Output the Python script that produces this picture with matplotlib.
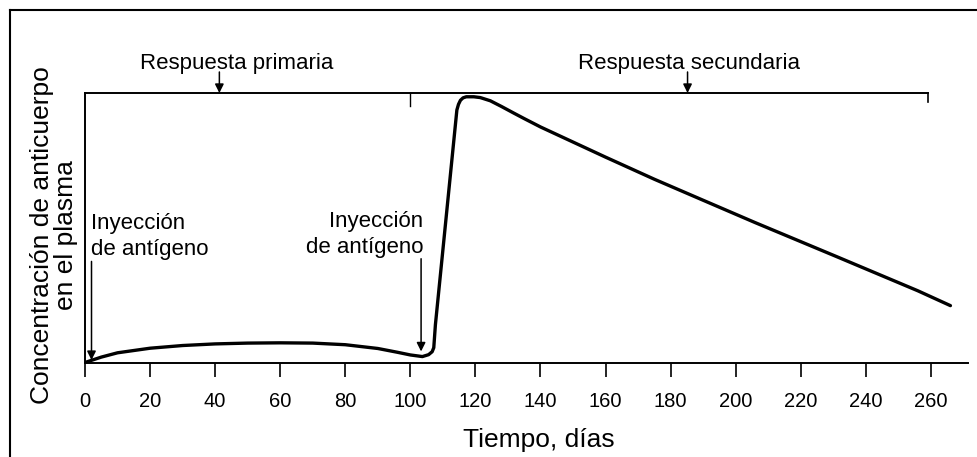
"""Antibody concentration in plasma: primary vs secondary response."""

import matplotlib

matplotlib.use("Agg")
import matplotlib.pyplot as plt
from matplotlib.lines import Line2D

plt.rcParams["font.family"] = ["Liberation Sans", "DejaVu Sans"]

# curve (days, relative concentration 0-100)
days = [0, 5, 10, 20, 30, 40, 50, 60, 70, 80, 90, 96, 100, 103.7, 105.6,
        106.7, 107.2, 107.7, 110.6, 114.3, 114.8, 115.4, 116.2, 117.2,
        119.5, 121.5, 124.6, 128, 131.7, 135, 140, 150, 160, 175, 190, 206,
        231, 256, 266]
conc = [0, 2.0, 3.6, 5.3, 6.3, 6.9, 7.2, 7.3, 7.2, 6.6, 5.2, 3.8, 2.8, 2.2,
        2.9, 4.0, 5.5, 14, 49, 93.7, 95.8, 97.3, 98.2, 98.6, 98.6, 98.3,
        97.1, 95.0, 92.6, 90.5, 87.4, 81.8, 76.2, 68.0, 60.2, 51.9, 39.3,
        26.6, 21.1]

xticks = list(range(0, 261, 20))
injections = [2, 103.3]          # days of the antigen injections
response_marks = [41.3, 185.2]   # arrows on the top bracket
response_labels = ["Respuesta primaria", "Respuesta secundaria"]
response_text_x = [46.6, 185.7]
bracket_end = 259

fig = plt.figure(figsize=(9.78, 4.57), dpi=100)
ax = fig.add_axes([85 / 978, 1 - 362.5 / 457, 883 / 978, 269.5 / 457])

ax.plot(days, conc, color="black", lw=2.4, solid_capstyle="round",
        solid_joinstyle="round")
ax.set_xlim(0, 271.4)
ax.set_ylim(0, 100)

for side in ("top", "right"):
    ax.spines[side].set_visible(False)
for side in ("left", "bottom"):
    ax.spines[side].set_linewidth(1.4)
ax.set_yticks([])
ax.set_xticks(xticks)
ax.tick_params(axis="x", length=10, width=1.2, pad=11, labelsize=14.5)

# top bracket with its ticks
ax.plot([0, bracket_end], [100, 100], color="black", lw=1.4, clip_on=False)
ax.plot([bracket_end, bracket_end], [100, 96.6], color="black", lw=1.2,
        clip_on=False)
ax.plot([100, 100], [100, 95.2], color="black", lw=1.0, clip_on=False)

arrow = dict(arrowstyle="-|>", color="black", lw=1.1, mutation_scale=13,
             shrinkA=0, shrinkB=0)
for xm, label, xt in zip(response_marks, response_labels, response_text_x):
    ax.annotate("", xy=(xm, 100), xytext=(xm, 107.8), arrowprops=arrow,
                annotation_clip=False)
    ax.text(xt, 108.8, label, ha="center", va="baseline", fontsize=16)

# injection arrows and labels
ax.annotate("", xy=(injections[0], 0.9), xytext=(injections[0], 37.5),
            arrowprops=arrow)
ax.text(injections[0] - 0.1, 38, "Inyección\nde antígeno", ha="left",
        va="bottom", fontsize=16, linespacing=1.3)
ax.annotate("", xy=(injections[1], 4.1), xytext=(injections[1], 38.5),
            arrowprops=arrow)
ax.text(injections[1] + 0.6, 38.8, "Inyección\nde antígeno", ha="right",
        va="bottom", fontsize=16, linespacing=1.3)

fig.text(54 / 978, 1 - 235 / 457, "Concentración de anticuerpo\nen el plasma",
         rotation=90, ha="center", va="center", fontsize=19, linespacing=0.95)
fig.text(539 / 978, 1 - 440 / 457, "Tiempo, días", ha="center", va="center",
         fontsize=19)

# outer frame (top and left edges only, as in the scan)
fig.add_artist(Line2D([10 / 978, 1], [1 - 10 / 457] * 2, color="black",
                      lw=1.5, transform=fig.transFigure))
fig.add_artist(Line2D([10 / 978] * 2, [0, 1 - 10 / 457], color="black",
                      lw=1.5, transform=fig.transFigure))

fig.savefig("out.png", dpi=100)
